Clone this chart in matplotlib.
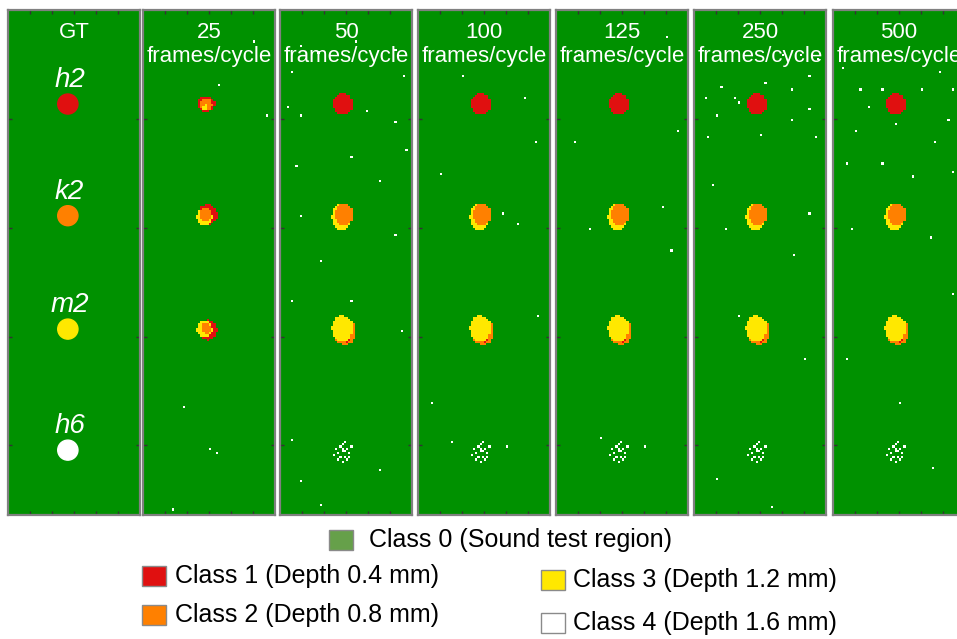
import numpy as np
import matplotlib
matplotlib.use('Agg')
import matplotlib.pyplot as plt
from matplotlib.colors import ListedColormap
from matplotlib.patches import Circle, Rectangle

plt.rcParams['font.family'] = ['Liberation Sans', 'DejaVu Sans']

# class colours 0..4 and legend text
class_colors = ['#009100', '#e01010', '#ff8000', '#ffe800', '#ffffff']
legend_patch_colors = ['#66a04a', '#e01010', '#ff8000', '#ffe800', '#ffffff']
class_labels = ['Class 0 (Sound test region)', 'Class 1 (Depth 0.4 mm)',
                'Class 2 (Depth 0.8 mm)', 'Class 3 (Depth 1.2 mm)',
                'Class 4 (Depth 1.6 mm)']

panel_titles = ['GT', '25\nframes/cycle', '50\nframes/cycle', '100\nframes/cycle',
                '125\nframes/cycle', '250\nframes/cycle', '500\nframes/cycle']

# defects (GT) : name, class, centre row
defect_names = ['h2', 'k2', 'm2', 'h6']
defect_class = [1, 2, 3, 4]
defect_row = [43.2, 94.5, 146.6, 202.2]
gt_col = 27.2
gt_radius = 4.6
pred_col = 28.6

# predicted blobs: (class, half width, half height, dx, dy), painted in order
blobs_25 = [
    [(1, 4.0, 3.6, 0.0, 0.0), (2, 2.9, 2.6, 0.2, 0.3), (3, 1.2, 1.4, -0.3, 1.4)],
    [(1, 4.4, 4.8, 0.7, -0.4), (3, 3.6, 4.0, -0.6, 0.8), (2, 2.6, 3.0, 0.0, -0.3)],
    [(1, 4.2, 4.6, 0.8, 0.4), (3, 3.6, 3.9, -0.6, 0.0), (2, 2.3, 2.5, 0.2, -0.2)],
    [],
]
blobs_rest = [
    [(1, 4.5, 4.9, 0.0, 0.0)],
    [(3, 4.7, 6.3, -0.5, 0.3), (2, 3.9, 5.3, 0.6, -0.4)],
    [(2, 5.1, 6.3, 0.7, 1.0), (1, 1.0, 1.2, 2.2, 4.8), (3, 4.9, 5.9, -0.3, -0.3)],
    [(4, 1.0, 1.3, 0.0, 0.0)],
]
h6_scatter = [(1, 0), (-1, -2), (2, -1), (-2, 1), (1, 3), (-1, 3), (3, 1), (-3, -1),
              (0, -3), (2, 4), (-2, 4), (4, -2), (1, -4), (-4, 2), (0, 5), (3, 3)]

# stray class-4 pixels in each predicted map (col, row)
noise = [
    [(34, 34), (56, 48), (50, 14), (18, 182), (30, 201), (33, 203), (13, 229)],
    [(9, 16), (17, 19), (34, 14), (52, 18), (5, 28), (56, 30), (3, 44), (9, 48),
     (52, 51), (39, 46), (57, 64), (7, 71), (32, 67), (45, 78), (9, 94), (18, 115),
     (52, 103), (5, 133), (32, 133), (55, 147), (5, 197), (9, 216), (18, 227), (45, 211)],
    [(20, 30), (48, 40), (53, 60), (10, 75), (45, 98), (38, 93), (54, 140),
     (6, 180), (15, 198), (40, 200)],
    [(50, 12), (10, 20), (55, 55), (8, 60), (48, 90), (15, 100), (52, 110),
     (40, 200), (20, 196)],
    [(5, 40), (12, 35), (18, 40), (32, 33), (44, 36), (52, 30), (56, 22), (40, 20),
     (48, 20), (10, 48), (20, 42), (44, 50), (52, 45), (6, 58), (30, 57), (55, 58),
     (8, 80), (14, 100), (45, 112), (52, 93), (20, 140), (50, 160), (10, 215), (35, 228)],
    [(4, 26), (12, 36), (16, 44), (22, 36), (40, 36), (48, 28), (54, 36), (10, 55),
     (28, 52), (46, 60), (52, 50), (6, 70), (22, 70), (36, 76), (54, 74), (8, 100),
     (44, 104), (54, 130), (6, 160), (30, 180), (45, 210)],
]

W, H = 60, 232
FW, FH = 957, 639
cmap = ListedColormap(class_colors)
yy, xx = np.mgrid[0:H, 0:W] + 0.5


def paint(grid, cx, cy, layers):
    for cls, rx, ry, dx, dy in layers:
        m = ((xx - cx - dx) / rx) ** 2 + ((yy - cy - dy) / ry) ** 2 <= 1
        grid[m] = cls


fig = plt.figure(figsize=(FW / 100, FH / 100), dpi=100)

lefts = [8, 143, 280, 418, 556, 694, 833]
for i, left in enumerate(lefts):
    ax = fig.add_axes([left / FW, 1 - 515 / FH, 132 / FW, 505 / FH])
    grid = np.zeros((H, W), dtype=int)
    if i > 0:
        layers = blobs_25 if i == 1 else blobs_rest
        for row, lay in zip(defect_row, layers):
            paint(grid, pred_col, row, lay)
        if i > 1:
            for dx, dy in h6_scatter:
                grid[int(defect_row[3] + dy), int(pred_col + dx)] = 4
        for c, r in noise[i - 1]:
            grid[r, c] = 4
    ax.imshow(grid, cmap=cmap, vmin=-0.5, vmax=4.5, extent=[0, W, H, 0],
              interpolation='nearest', aspect='auto')
    if i == 0:
        for name, cls, row in zip(defect_names, defect_class, defect_row):
            ax.add_patch(Circle((gt_col, row), gt_radius, color=class_colors[cls]))
            ax.text(gt_col + 0.8, row - 11, name, style='italic', color='white',
                    fontsize=20, ha='center', va='center')
    ax.text(0.5, 0.976, panel_titles[i], transform=ax.transAxes, ha='center',
            va='top', color='white', fontsize=16, linespacing=1.2)
    ax.set_xlim(0, W)
    ax.set_ylim(H, 0)
    ax.set_xticks([10, 20, 30, 40, 50])
    ax.set_yticks([50, 100, 150, 200])
    ax.tick_params(direction='in', length=3, width=1, color='#333333',
                   top=True, right=True, labelleft=False, labelbottom=False)
    for s in ax.spines.values():
        s.set_color('#808080')
        s.set_linewidth(1.6)

# legend drawn in pixel positions
legend_pos = [(329, 540, 369), (142, 576, 175), (142, 615, 175),
              (541, 580, 573), (541, 623, 573)]
for k, (px, py, tx) in enumerate(legend_pos):
    fig.add_artist(Rectangle((px / FW, 1 - (py + 10) / FH), 24 / FW, 20 / FH,
                             facecolor=legend_patch_colors[k], edgecolor='#8a8a8a',
                             linewidth=1, transform=fig.transFigure))
    fig.text(tx / FW, 1 - py / FH, class_labels[k], fontsize=18, va='center',
             ha='left', color='black')

fig.savefig('out.png', dpi=100)
